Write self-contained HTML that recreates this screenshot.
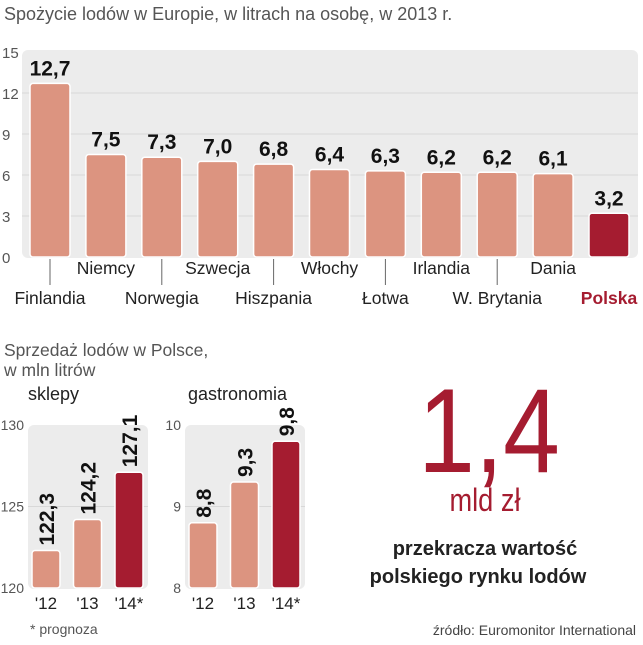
<!DOCTYPE html>
<html><head><meta charset="utf-8">
<style>
body{margin:0;background:#fff;width:643px;height:640px;overflow:hidden;font-family:"Liberation Sans",sans-serif}
svg text{font-family:"Liberation Sans",sans-serif}
</style></head>
<body>
<svg id="c" width="643" height="640" xmlns="http://www.w3.org/2000/svg">
<text x="4" y="20" font-size="18" fill="#555">Spożycie lodów w Europie, w litrach na osobę, w 2013 r.</text>
<text x="4" y="356" font-size="17.5" fill="#555">Sprzedaż lodów w Polsce,</text>
<text x="4" y="376" font-size="17.5" fill="#555">w mln litrów</text>
<text x="28" y="400" font-size="18" fill="#222">sklepy</text>
<text x="188" y="400" font-size="18" fill="#222">gastronomia</text>
<text x="30" y="634" font-size="14" fill="#555">* prognoza</text>
<text x="0" y="0" font-size="120" fill="#a51c30" text-anchor="middle" transform="translate(489,472) scale(0.85,1)">1,4</text>
<text x="0" y="0" font-size="32" fill="#a51c30" text-anchor="middle" transform="translate(485,511) scale(0.85,1)">mld zł</text>
<text x="485" y="555" font-size="20" font-weight="bold" fill="#222" text-anchor="middle">przekracza wartość</text>
<text x="478" y="583" font-size="20" font-weight="bold" fill="#222" text-anchor="middle">polskiego rynku lodów</text>
<text x="636" y="635" font-size="14" fill="#444" text-anchor="end">źródło: Euromonitor International</text>
</svg>
<script>
const countries=["Finlandia","Niemcy","Norwegia","Szwecja","Hiszpania","Włochy","Łotwa","Irlandia","W. Brytania","Dania","Polska"];
const consumption=[12.7,7.5,7.3,7.0,6.8,6.4,6.3,6.2,6.2,6.1,3.2];
const topTicks=[0,3,6,9,12,15];
const years=["'12","'13","'14*"];
const shopValues=[122.3,124.2,127.1];
const shopTicks=[120,125,130];
const gastroValues=[8.8,9.3,9.8];
const gastroTicks=[8,9,10];

const svg=document.getElementById('c');
const NS="http://www.w3.org/2000/svg";
function mk(tag,attrs,txt){const e=document.createElementNS(NS,tag);for(const k in attrs)e.setAttribute(k,attrs[k]);if(txt!==undefined)e.textContent=txt;svg.appendChild(e);return e;}
const fmt=v=>v.toFixed(1).replace('.',',');
const SAL="#dc9480",RED="#a51c30";

const tY=v=>257-v*(257-52)/15;
const tX=i=>50+i*55.9;
let e=mk('rect',{x:22,y:50,width:616,height:208,rx:6,fill:'#ececec'});


topTicks.forEach(t=>{
  if(t>0&&t<15){let g=mk('line',{x1:22,x2:638,y1:tY(t),y2:tY(t),stroke:'#d8d8d8'});
  
  }
  let l=mk('text',{x:2,y:tY(t)+6,'font-size':15,fill:'#555'},t);
  
  
});
countries.forEach((c,i)=>{
  const x=tX(i),y=tY(consumption[i]);
  let b=mk('rect',{x:x-20,y:y,width:40,height:257-y,rx:3,fill:i==10?RED:SAL,stroke:'#fff','stroke-width':1.5});
  
  
  let v=mk('text',{x:x,y:y-8,'font-size':21,'font-weight':'bold',fill:'#111','text-anchor':'middle'},fmt(consumption[i]));
  
  
  const low=i%2==0;
  if(low&&i<10){let tl=mk('line',{x1:x,x2:x,y1:259,y2:285,stroke:'#666'});
  
  }
  let n=mk('text',{x:x,y:low?304:274,'font-size':17.5,fill:i==10?RED:'#222','font-weight':i==10?'bold':'normal','text-anchor':'middle'},c);
  
  
});

function small(x0,vals,ticks,name){
  const y=v=>588-(v-ticks[0])*(588-425)/(ticks[2]-ticks[0]);
  let p=mk('rect',{x:x0,y:425,width:120,height:164,rx:6,fill:'#ececec'});
  
  
  let g=mk('line',{x1:x0,x2:x0+120,y1:y(ticks[1]),y2:y(ticks[1]),stroke:'#d8d8d8'});
  
  
  ticks.forEach(t=>{let l=mk('text',{x:x0-4,y:y(t)+5,'font-size':14,fill:'#555','text-anchor':'end'},t);
  
  });
  vals.forEach((v,i)=>{
    const cx=x0+18+i*41.5,by=y(v);
    let b=mk('rect',{x:cx-14,y:by,width:28,height:588-by,rx:3,fill:i==2?RED:SAL,stroke:'#fff','stroke-width':1.5});
    
    
    let t=mk('text',{x:0,y:0,'font-size':21,'font-weight':'bold',fill:'#111',transform:`translate(${cx+8},${by-5}) rotate(-90)`},fmt(v));
    
    
    let xl=mk('text',{x:cx,y:609,'font-size':17,fill:'#222','text-anchor':'middle'},years[i]);
    
    
  });
}
small(28,shopValues,shopTicks,'sklepy');
small(185,gastroValues,gastroTicks,'gastronomia');
</script>
</body></html>
